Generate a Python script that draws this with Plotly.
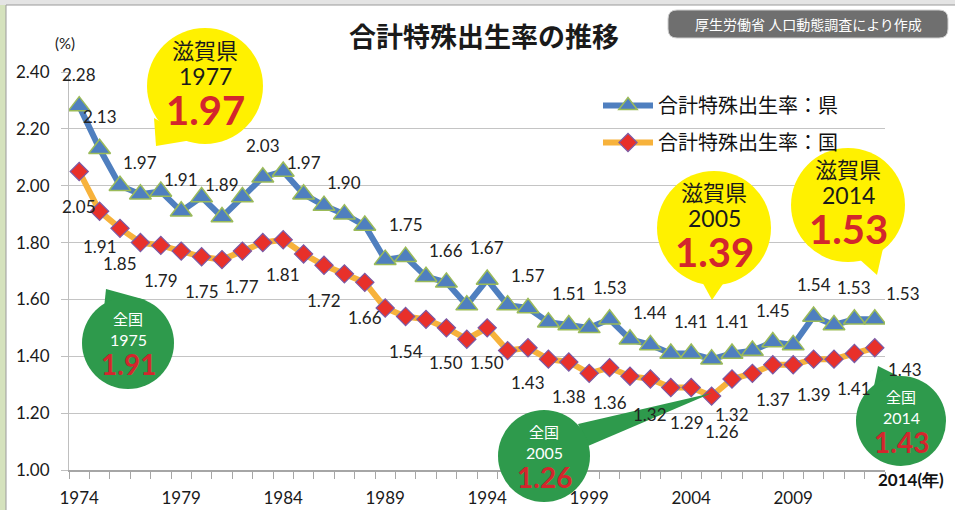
import plotly.graph_objects as go

years = list(range(1974, 2014))
pref = [2.28, 2.13, 2.00, 1.97, 1.98, 1.91, 1.96, 1.89, 1.96, 2.03, 2.05, 1.97, 1.93, 1.90,
        1.86, 1.74, 1.75, 1.68, 1.66, 1.58, 1.67, 1.58, 1.57, 1.52, 1.51, 1.50, 1.53, 1.46,
        1.44, 1.41, 1.41, 1.39, 1.41, 1.42, 1.45, 1.44, 1.54, 1.51, 1.53, 1.53]
national = [2.05, 1.91, 1.85, 1.80, 1.79, 1.77, 1.75, 1.74, 1.77, 1.80, 1.81, 1.76, 1.72, 1.69,
            1.66, 1.57, 1.54, 1.53, 1.50, 1.46, 1.50, 1.42, 1.43, 1.39, 1.38, 1.34, 1.36, 1.33,
            1.32, 1.29, 1.29, 1.26, 1.32, 1.34, 1.37, 1.37, 1.39, 1.39, 1.41, 1.43]
pref_label_years = [1974, 1975, 1977, 1979, 1981, 1983, 1985, 1987, 1990, 1992, 1994, 1996,
                    1998, 2000, 2002, 2004, 2006, 2008, 2010, 2012]
nat_label_years = [1974, 1975, 1976, 1978, 1980, 1982, 1984, 1986, 1988, 1990, 1992, 1994,
                   1996, 1998, 2000, 2002, 2004, 2005, 2006, 2008, 2010, 2012]
xtick_years = [1974, 1979, 1984, 1989, 1994, 1999, 2004, 2009]
yticks = [1.0, 1.2, 1.4, 1.6, 1.8, 2.0, 2.2, 2.4]

name_pref = "合計特殊出生率：県"
name_nat = "合計特殊出生率：国"
title = "合計特殊出生率の推移"
source = "厚生労働省 人口動態調査により作成"

callouts_pref = [("滋賀県", "1977", "1.97"), ("滋賀県", "2005", "1.39"), ("滋賀県", "2014", "1.53")]
callouts_nat = [("全国", "1975", "1.91"), ("全国", "2005", "1.26"), ("全国", "2014", "1.43")]

JP = "Noto Sans CJK JP"
NUM = "Lato"
BLUE = "#4f7fbf"
ORANGE = "#f7b23b"
RED = "#e8302a"
YELLOW = "#fff100"
GREEN = "#2e9a4c"
CRED = "#d3262d"

L, R, T, B = 69, 885, 72, 470
W, H = R - L, B - T


def px(x):
    return (x - L) / W


def py(y):
    return (B - y) / H


def note(x, y, text, font, **kw):
    d = dict(x=px(x), y=py(y), xref="paper", yref="paper", text=text, showarrow=False,
             xanchor="center", yanchor="middle", font=font)
    d.update(kw)
    return d


fig = go.Figure()
fig.add_trace(go.Scatter(
    x=years, y=pref, name=name_pref, mode="lines+markers", legendgroup="a",
    line=dict(color=BLUE, width=6),
    marker=dict(symbol="triangle-up", size=19, color=BLUE, line=dict(color="#9bbb59", width=1.5)),
))
fig.add_trace(go.Scatter(
    x=years, y=national, name=name_nat, mode="lines+markers", legendgroup="b",
    line=dict(color=ORANGE, width=6),
    marker=dict(symbol="diamond", size=14, color=RED, line=dict(color="#7a5aa6", width=1.2)),
))

ann = []
lab_font = dict(family=NUM, size=17, color="#222222")
for yr in pref_label_years:
    v = pref[years.index(yr)]
    ann.append(dict(x=yr, y=v, xref="x", yref="y", text=f"{v:.2f}", showarrow=False,
                    xanchor="center", yanchor="middle", yshift=32, font=lab_font))
v = pref[-1]
ann.append(dict(x=years[-1], y=v, xref="x", yref="y", text=f"{v:.2f}", showarrow=False,
                xanchor="center", yanchor="middle", yshift=26, xshift=28, font=lab_font))
for yr in nat_label_years:
    v = national[years.index(yr)]
    xs = 10 if yr == 2005 else (-4 if yr == 2004 else 0)
    ann.append(dict(x=yr, y=v, xref="x", yref="y", text=f"{v:.2f}", showarrow=False,
                    xanchor="center", yanchor="middle", yshift=-35, xshift=xs, font=lab_font))
v = national[-1]
ann.append(dict(x=years[-1], y=v, xref="x", yref="y", text=f"{v:.2f}", showarrow=False,
                xanchor="center", yanchor="middle", yshift=-22, xshift=30, font=lab_font))

shapes = []
shapes.append(dict(type="rect", xref="paper", yref="paper", x0=px(0), x1=px(6), y0=py(510), y1=py(0),
                   fillcolor="#d5e2bd", line=dict(width=0), layer="below"))
shapes.append(dict(type="rect", xref="paper", yref="paper", x0=px(0), x1=px(955), y0=py(5), y1=py(0),
                   fillcolor="#e4e4e4", line=dict(width=0), layer="below"))
shapes.append(dict(type="line", xref="paper", yref="paper", x0=px(6), x1=px(955), y0=py(5), y1=py(5),
                   line=dict(color="#9a9a9a", width=1)))
shapes.append(dict(type="line", xref="paper", yref="paper", x0=px(6), x1=px(6), y0=py(5), y1=py(510),
                   line=dict(color="#9a9a9a", width=1)))

bx0, bx1, by0, by1, rr = 668, 948, 10, 38, 9
path = (f"M {px(bx0+rr)},{py(by0)} L {px(bx1-rr)},{py(by0)} Q {px(bx1)},{py(by0)} {px(bx1)},{py(by0+rr)} "
        f"L {px(bx1)},{py(by1-rr)} Q {px(bx1)},{py(by1)} {px(bx1-rr)},{py(by1)} "
        f"L {px(bx0+rr)},{py(by1)} Q {px(bx0)},{py(by1)} {px(bx0)},{py(by1-rr)} "
        f"L {px(bx0)},{py(by0+rr)} Q {px(bx0)},{py(by0)} {px(bx0+rr)},{py(by0)} Z")
shapes.append(dict(type="path", xref="paper", yref="paper", path=path, fillcolor="#6f6f6f",
                   line=dict(color="#cfcfcf", width=1)))
ann.append(note(808, 24, source, dict(family=JP, size=14, color="white")))


def tri(p1, p2, p3, color):
    path = f"M {px(p1[0])},{py(p1[1])} L {px(p2[0])},{py(p2[1])} L {px(p3[0])},{py(p3[1])} Z"
    return dict(type="path", xref="paper", yref="paper", path=path, fillcolor=color,
                line=dict(width=0), layer="above")


def circ(cx, cy, r, color):
    return dict(type="circle", xref="paper", yref="paper", x0=px(cx - r), x1=px(cx + r),
                y0=py(cy + r), y1=py(cy - r), fillcolor=color, line=dict(width=0), layer="above")


ycirc = [(205, 86, 58, ((154, 118), (192, 140), (156, 146))),
         (714, 228, 57, ((700, 278), (727, 278), (712, 300))),
         (848, 205, 57, ((858, 258), (884, 244), (877, 275)))]
for (cx, cy, r, t), (a, b, c) in zip(ycirc, callouts_pref):
    shapes.append(tri(*t, YELLOW))
    shapes.append(circ(cx, cy, r, YELLOW))
    ann.append(note(cx, cy - 37, a, dict(family=JP, size=22, color="#1a1a1a")))
    ann.append(note(cx, cy - 10, b, dict(family=NUM, size=23, color="#1a1a1a")))
    ann.append(note(cx, cy + 24, f"<b>{c}</b>", dict(family=NUM, size=40, color=CRED)))

gcirc = [(128, 343, 46, ((103, 318), (146, 300), (106, 289))),
         (544, 456, 46, ((578, 424), (588, 446), (712, 393))),
         (901, 421, 45, ((872, 396), (900, 377), (878, 366)))]
for (cx, cy, r, t), (a, b, c) in zip(gcirc, callouts_nat):
    shapes.append(tri(*t, GREEN))
    shapes.append(circ(cx, cy, r, GREEN))
    ann.append(note(cx, cy - 25, a, dict(family=JP, size=15, color="white")))
    ann.append(note(cx, cy - 4, b, dict(family=NUM, size=16, color="white")))
    ann.append(note(cx, cy + 21, f"<b>{c}</b>", dict(family=NUM, size=28, color=CRED)))

ann.append(note(484, 35, f"<b>{title}</b>", dict(family=JP, size=27, color="#1a1a1a")))
ann.append(note(65, 43, "(%)", dict(family=NUM, size=15, color="#1a1a1a")))
ann.append(note(911, 479, "<b>2014(年)</b>", dict(family=NUM, size=17, color="#111111")))

fig.update_layout(
    width=955, height=510, autosize=False,
    margin=dict(l=L, r=955 - R, t=T, b=510 - B, autoexpand=False),
    paper_bgcolor="white", plot_bgcolor="white",
    showlegend=True,
    legend=dict(x=px(598), y=py(86), xanchor="left", yanchor="top", bgcolor="rgba(0,0,0,0)",
                font=dict(family=JP, size=20, color="#111111"), itemwidth=50,
                traceorder="grouped", tracegroupgap=8),
    xaxis=dict(range=[1973.5, 2013.5], tickmode="array", tickvals=xtick_years,
               ticktext=[str(y) for y in xtick_years], ticks="", showgrid=False, zeroline=False,
               showline=True, linecolor="#a6a6a6", linewidth=1.5, ticklabelstandoff=12,
               automargin=False,
               tickfont=dict(family=NUM, size=17, color="#1a1a1a"),
               minor=dict(ticks="outside", ticklen=7, tickcolor="#a6a6a6", tick0=1973.5, dtick=1,
                          showgrid=False)),
    yaxis=dict(range=[1.0, 2.4], tickmode="array", tickvals=yticks,
               ticktext=[f"{v:.2f}" for v in yticks], ticks="outside", ticklen=7,
               tickcolor="#bfbfbf", showgrid=True, gridcolor="#c4c4c4", gridwidth=1.2,
               zeroline=False, showline=True, linecolor="#bfbfbf", ticklabelstandoff=8,
               automargin=False,
               tickfont=dict(family=NUM, size=17, color="#1a1a1a")),
    annotations=ann, shapes=shapes,
)
fig.write_html("out.html", config={"displayModeBar": False},
               post_script="document.body.style.margin='0px';")
